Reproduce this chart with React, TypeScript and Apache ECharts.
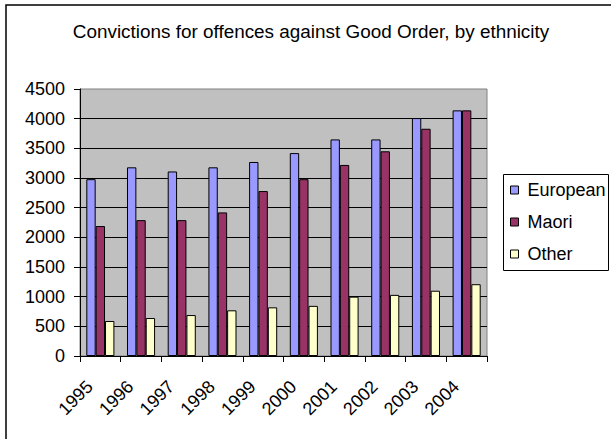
import React, { useEffect, useRef } from "react";
import * as echarts from "echarts";

const years = ["1995", "1996", "1997", "1998", "1999", "2000", "2001", "2002", "2003", "2004"];
const european = [2980, 3180, 3110, 3180, 3270, 3420, 3650, 3650, 4010, 4140];
const maori = [2190, 2290, 2290, 2420, 2780, 2980, 3220, 3450, 3830, 4140];
const other = [590, 640, 690, 770, 820, 845, 1000, 1030, 1100, 1210];
const seriesNames = ["European", "Maori", "Other"];
const seriesColors = ["#9999FF", "#993366", "#FFFFCC"];
const titleText = "Convictions for offences against Good Order, by ethnicity";

const FONT = "Arial, 'Liberation Sans', sans-serif";

export default function App() {
  const ref = useRef<HTMLDivElement>(null);
  useEffect(() => {
    if (!ref.current) return;
    const chart = echarts.init(ref.current, null, { renderer: "svg" });
    const values = [european, maori, other];
    chart.setOption({
      animation: false,
      backgroundColor: "#ffffff",
      textStyle: { fontFamily: FONT },
      grid: {
        left: 80,
        right: 124,
        top: 89,
        bottom: 83,
        show: true,
        backgroundColor: "#C0C0C0",
        borderColor: "#808080",
        borderWidth: 1,
      },
      legend: {
        orient: "vertical",
        left: 510,
        top: 180,
        padding: 0,
        itemWidth: 8,
        itemHeight: 8,
        itemGap: 12,
        icon: "rect",
        itemStyle: { borderColor: "#000", borderWidth: 1 },
        textStyle: { fontSize: 18, color: "#000", fontFamily: FONT, lineHeight: 20, padding: [0, 0, 0, 4] },
        data: seriesNames,
      },
      xAxis: {
        type: "category",
        data: years,
        axisLine: { show: true, lineStyle: { color: "#000", width: 1 } },
        axisTick: { show: true, length: 6, lineStyle: { color: "#000" } },
        axisLabel: {
          rotate: 45,
          fontSize: 18,
          color: "#000",
          margin: 17,
          padding: [0, 15, 0, 0],
          fontFamily: FONT,
        },
        splitLine: { show: false },
      },
      yAxis: {
        type: "value",
        min: 0,
        max: 4500,
        interval: 500,
        axisLine: { show: true, lineStyle: { color: "#000", width: 1 } },
        axisTick: { show: true, length: 6, lineStyle: { color: "#000" } },
        axisLabel: {
          fontSize: 18,
          color: "#000",
          margin: 15,
          fontFamily: FONT,
          formatter: (v: number) => String(v),
        },
        splitLine: { show: true, showMaxLine: false, lineStyle: { color: "#000", width: 1 } },
      },
      series: seriesNames.map((name, i) => ({
        name,
        type: "bar",
        data: values[i],
        barGap: "0%",
        barCategoryGap: "31%",
        itemStyle: { color: seriesColors[i], borderColor: "#000", borderWidth: 1 },
      })),
      graphic: [
        {
          type: "rect",
          shape: { x: 6, y: 5, width: 620, height: 450 },
          style: { fill: "none", stroke: "#000", lineWidth: 1.5 },
          silent: true,
        },
        {
          type: "rect",
          shape: { x: 503.5, y: 174.5, width: 105, height: 96 },
          style: { fill: "none", stroke: "#000", lineWidth: 1 },
          silent: true,
        },
        {
          type: "text",
          style: {
            text: titleText,
            x: 311,
            y: 31,
            textAlign: "center",
            textVerticalAlign: "middle",
            fontSize: 18.9,
            fontFamily: FONT,
            fill: "#000",
          },
        },
      ],
    });
    return () => chart.dispose();
  }, []);
  return <div ref={ref} style={{ position: "fixed", left: 0, top: 0, width: 611, height: 439 }} />;
}
